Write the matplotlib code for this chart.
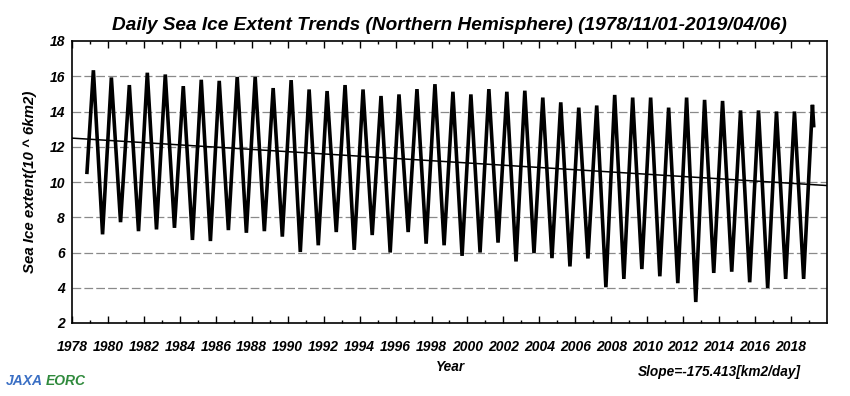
import matplotlib
matplotlib.use("Agg")
import matplotlib.pyplot as plt
from matplotlib.ticker import MultipleLocator
import numpy as np

plt.rcParams['font.family'] = ['Liberation Sans', 'DejaVu Sans']

# Annual maximum (March) and minimum (September) extent, 10^6 km2
max_years = list(range(1979, 2020))
max_vals = [16.34, 15.93, 15.50, 16.20, 16.10, 15.44, 15.80, 15.74, 15.96, 15.96,
            15.33, 15.78, 15.25, 15.16, 15.50, 15.25, 14.88, 14.97, 15.27, 15.55,
            15.12, 14.97, 15.27, 15.12, 15.18, 14.79, 14.52, 14.22, 14.34, 14.94,
            14.79, 14.79, 14.22, 14.79, 14.66, 14.60, 14.06, 14.06, 14.00, 14.00,
            14.38]
min_years = list(range(1979, 2019))
min_vals = [7.03, 7.72, 7.21, 7.31, 7.40, 6.71, 6.65, 7.27, 7.12, 7.21,
            6.90, 6.03, 6.41, 7.16, 6.15, 6.99, 6.00, 7.16, 6.50, 6.41,
            5.81, 6.00, 6.56, 5.49, 5.96, 5.68, 5.21, 5.66, 4.03, 4.50,
            5.06, 4.65, 4.26, 3.19, 4.84, 4.91, 4.31, 3.99, 4.50, 4.50]

# first and last day of record
start_date, start_val = 1978 + 304 / 365.0, 10.55   # 1978/11/01
end_date, end_val = 2019 + 95 / 365.0, 13.2         # 2019/04/06

# linear trend
slope_km2_day = -175.413
trend_at_1978 = 12.49

title = 'Daily Sea Ice Extent Trends (Northern Hemisphere) (1978/11/01-2019/04/06)'

# build time series in order: start, max, min, max, min, ..., max, end
t = [start_date]
v = [start_val]
for i, yr in enumerate(max_years):
    t.append(yr + 0.19)
    v.append(max_vals[i])
    if yr in min_years:
        t.append(yr + 0.70)
        v.append(min_vals[min_years.index(yr)])
t.append(end_date)
v.append(end_val)

fig = plt.figure(figsize=(8.5, 3.96), dpi=100)
ax = fig.add_axes([72 / 850, 1 - 323 / 396, (827 - 72) / 850, (323 - 41) / 396])

for yv in range(4, 18, 2):
    ax.axhline(yv, color='#8a8a8a', lw=0.9, dashes=(7, 2.5), zorder=1)

ax.plot(t, v, color='black', lw=2.6, solid_joinstyle='miter', zorder=3)

slope_per_year = slope_km2_day * 365.25 / 1e6
xs = np.array([1978.0, 2020.0])
ax.plot(xs, trend_at_1978 + slope_per_year * (xs - 1978.0), color='black', lw=1.1, zorder=4)

ax.set_xlim(1978, 2020)
ax.set_ylim(2, 18)
ax.yaxis.set_major_locator(MultipleLocator(2))
ax.set_xticks(range(1978, 2020, 2))
ax.set_xticks(range(1979, 2020, 2), minor=True)
ax.tick_params(axis='x', which='major', direction='in', length=5, width=1,
               top=True, bottom=True, pad=12)
ax.tick_params(axis='x', which='minor', direction='in', length=2.5, width=1,
               top=True, bottom=True)
ax.tick_params(axis='y', which='both', length=0, pad=5)
for lab in ax.get_xticklabels() + ax.get_yticklabels():
    lab.set_fontweight('bold')
    lab.set_fontstyle('italic')
    lab.set_fontsize(10)
for s in ax.spines.values():
    s.set_linewidth(1.2)

ax.set_title(title, fontsize=13.7, fontweight='bold', fontstyle='italic', pad=8)
ax.set_ylabel('Sea Ice extent(10 ^ 6km2)', fontsize=10.8, fontweight='bold',
              fontstyle='italic', labelpad=9)
fig.text(450 / 850, 1 - 367 / 396, 'Year', ha='center', va='center',
         fontsize=9.8, fontweight='bold', fontstyle='italic')
fig.text(719 / 850, 1 - 372 / 396, 'Slope=-175.413[km2/day]', ha='center', va='center',
         fontsize=9.8, fontweight='bold', fontstyle='italic')
fig.text(6 / 850, 1 - 381 / 396, 'JAXA', ha='left', va='center', color='#3a6fc4',
         fontsize=10, fontweight='bold', fontstyle='italic')
fig.text(46 / 850, 1 - 381 / 396, 'EORC', ha='left', va='center', color='#2f8a3c',
         fontsize=10, fontweight='bold', fontstyle='italic')

fig.savefig('out.png', dpi=100)
